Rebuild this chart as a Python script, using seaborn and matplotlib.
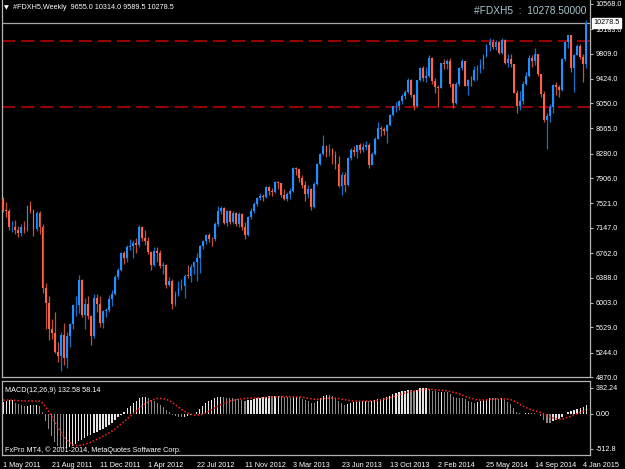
import numpy as np
import pandas as pd
import matplotlib
matplotlib.use('Agg')
import matplotlib.pyplot as plt
import matplotlib.transforms as mtransforms
import seaborn as sns

# weekly bars of #FDXH5, bar 0 = week of 1 May 2011, bar 193 = current week
opens = [7590, 7420, 7400, 7155, 7163, 7109, 7070, 7164, 7121, 7480,
         7410, 7130, 7380, 7158, 6236, 5998, 5602, 5537, 5246, 5189,
         5508, 5164, 5502, 5675, 5967, 5970, 6346, 5810, 5985, 5800,
         5492, 6080, 5986, 5702, 5878, 5898, 6057, 6143, 6404, 6511,
         6766, 6692, 6849, 6864, 6922, 6880, 7157, 6996, 6947, 6775,
         6583, 6801, 6762, 6561, 6579, 6271, 6339, 5978, 6130, 6229,
         6263, 6416, 6410, 6557, 6630, 6689, 6865, 6945, 7040, 6972,
         6970, 7214, 7412, 7451, 7216, 7398, 7233, 7380, 7202, 7363,
         7163, 7043, 7309, 7405, 7517, 7597, 7636, 7612, 7776, 7715,
         7702, 7850, 7833, 7652, 7593, 7661, 7708, 8060, 8043, 7913,
         7795, 7658, 7745, 7460, 7814, 8122, 8278, 8398, 8305, 8349,
         8254, 8127, 7789, 7959, 7806, 8212, 8331, 8300, 8410, 8338,
         8388, 8417, 8103, 8275, 8509, 8675, 8661, 8623, 8725, 8869,
         9001, 9010, 9079, 9168, 9226, 9405, 9172, 9006, 9400, 9589,
         9435, 9473, 9742, 9393, 9306, 9290, 9663, 9657, 9692, 9350,
         9056, 9342, 9588, 9695, 9315, 9409, 9401, 9556, 9581, 9629,
         9768, 9943, 9987, 9912, 9987, 9815, 10009, 9666, 9720, 9644,
         9210, 9009, 9092, 9339, 9470, 9747, 9691, 9799, 9490, 9195,
         8788, 8850, 8988, 9326, 9291, 9252, 9732, 9980, 10087, 9594,
         9786, 9927, 9764, 9655]
highs = [7620, 7540, 7440, 7250, 7260, 7180, 7200, 7250, 7490, 7560,
         7440, 7400, 7400, 7200, 6300, 6110, 5760, 5860, 5400, 5560,
         5700, 5560, 5700, 5990, 6100, 6430, 6360, 6070, 6110, 5810,
         6135, 6130, 6110, 5900, 5920, 6120, 6200, 6430, 6530, 6780,
         6800, 6880, 6970, 6960, 6990, 7194, 7180, 7110, 7010, 6790,
         6860, 6850, 6810, 6620, 6590, 6390, 6360, 6190, 6330, 6360,
         6440, 6580, 6590, 6640, 6770, 6880, 6960, 7050, 7070, 7010,
         7240, 7480, 7480, 7460, 7420, 7420, 7400, 7390, 7390, 7370,
         7230, 7330, 7450, 7540, 7620, 7680, 7660, 7790, 7780, 7760,
         7870, 7870, 7840, 7740, 7700, 7750, 8070, 8080, 8050, 7950,
         7860, 7800, 7760, 7850, 8140, 8290, 8560, 8420, 8430, 8370,
         8320, 8250, 8000, 8000, 8230, 8370, 8400, 8420, 8450, 8450,
         8470, 8440, 8300, 8530, 8770, 8700, 8690, 8740, 8880, 9010,
         9070, 9100, 9190, 9260, 9430, 9420, 9190, 9410, 9600, 9620,
         9600, 9794, 9760, 9440, 9330, 9670, 9720, 9720, 9740, 9360,
         9380, 9600, 9720, 9700, 9420, 9470, 9620, 9640, 9720, 9800,
         9960, 10050, 10030, 10010, 10000, 10050, 10030, 9800, 9800, 9650,
         9250, 9230, 9390, 9520, 9780, 9780, 9890, 9810, 9500, 9230,
         8900, 9040, 9340, 9380, 9330, 9740, 10000, 10100, 10100, 9800,
         9950, 9950, 9800, 10314]
lows = [7390, 7320, 7120, 7080, 7050, 7010, 7020, 7070, 7100, 7380,
        7030, 7100, 7060, 6150, 5600, 5430, 5450, 5230, 5100, 4965,
        5060, 5000, 5330, 5600, 5800, 5850, 5780, 5600, 5760, 5366,
        5470, 5860, 5640, 5620, 5780, 5870, 5960, 6120, 6370, 6490,
        6600, 6630, 6810, 6690, 6760, 6860, 6950, 6890, 6750, 6510,
        6560, 6630, 6540, 6440, 6230, 6260, 5914, 5950, 6100, 6200,
        6080, 6380, 6320, 6450, 6330, 6460, 6820, 6900, 6930, 6870,
        6940, 7180, 7360, 7200, 7180, 7200, 7210, 7170, 7160, 7120,
        6970, 7030, 7290, 7380, 7480, 7570, 7560, 7600, 7650, 7640,
        7680, 7740, 7620, 7580, 7550, 7590, 7700, 7950, 7850, 7760,
        7550, 7600, 7420, 7450, 7800, 8100, 8260, 8230, 8240, 8130,
        8050, 7770, 7655, 7700, 7790, 8180, 8250, 8220, 8290, 8300,
        8330, 8060, 8100, 8260, 8500, 8550, 8560, 8450, 8700, 8850,
        8920, 8940, 9040, 9120, 9200, 9150, 8950, 8990, 9390, 9390,
        9370, 9450, 9350, 9200, 8990, 9280, 9580, 9580, 9300, 8980,
        9040, 9320, 9560, 9310, 9170, 9310, 9390, 9400, 9510, 9580,
        9750, 9850, 9880, 9860, 9800, 9800, 9650, 9610, 9600, 9200,
        8900, 8950, 9040, 9330, 9450, 9600, 9640, 9470, 9150, 8760,
        8355, 8760, 8900, 9180, 9150, 9240, 9700, 9900, 9520, 9220,
        9780, 9720, 9380, 9589.5]
closes = [7420, 7400, 7155, 7163, 7109, 7070, 7164, 7121, 7480, 7410,
          7130, 7380, 7158, 6236, 5998, 5602, 5537, 5246, 5189, 5508,
          5164, 5502, 5675, 5967, 5970, 6346, 5810, 5985, 5800, 5492,
          6080, 5986, 5702, 5878, 5898, 6057, 6143, 6404, 6511, 6766,
          6692, 6849, 6864, 6922, 6880, 7157, 6996, 6947, 6775, 6583,
          6801, 6762, 6561, 6579, 6271, 6339, 5978, 6130, 6229, 6263,
          6416, 6410, 6557, 6630, 6689, 6865, 6945, 7040, 6972, 6970,
          7214, 7412, 7451, 7216, 7398, 7233, 7380, 7202, 7363, 7163,
          7043, 7309, 7405, 7517, 7597, 7636, 7612, 7776, 7715, 7702,
          7850, 7833, 7652, 7593, 7661, 7708, 8060, 8043, 7913, 7795,
          7658, 7745, 7460, 7814, 8122, 8278, 8398, 8305, 8349, 8254,
          8127, 7789, 7959, 7806, 8212, 8331, 8300, 8410, 8338, 8388,
          8417, 8103, 8275, 8509, 8675, 8661, 8623, 8725, 8869, 9001,
          9010, 9079, 9168, 9226, 9405, 9172, 9006, 9400, 9589, 9435,
          9473, 9742, 9393, 9306, 9290, 9663, 9657, 9692, 9350, 9056,
          9342, 9588, 9695, 9315, 9409, 9401, 9556, 9581, 9629, 9768,
          9943, 9987, 9912, 9987, 9815, 10009, 9666, 9720, 9644, 9210,
          9009, 9092, 9339, 9470, 9747, 9691, 9799, 9490, 9195, 8788,
          8850, 8988, 9326, 9291, 9252, 9732, 9980, 10087, 9594, 9786,
          9927, 9764, 9648, 10278.5]

# MACD(12,26,9): main line (histogram) and signal line (dotted)
macd_main = [170, 185, 195, 200, 160, 140, 125, 110, 120, 132,
             125, 130, 118, 20, -110, -230, -330, -420, -475, -500,
             -512.8, -508, -495, -470, -440, -400, -380, -355, -335, -320,
             -290, -265, -245, -220, -195, -165, -130, -95, -55, -15,
             30, 80, 120, 160, 190, 230, 245, 250, 235, 205,
             185, 160, 130, 100, 60, 30, -20, -40, -50, -55,
             -50, -40, -25, 0, 30, 75, 110, 150, 180, 205,
             225, 240, 245, 240, 235, 230, 225, 215, 210, 200,
             190, 195, 205, 215, 225, 235, 240, 250, 255, 255,
             260, 262, 255, 245, 240, 235, 245, 250, 240, 220,
             195, 180, 160, 150, 185, 225, 260, 270, 270, 258,
             230, 180, 150, 130, 140, 155, 165, 175, 180, 185,
             190, 180, 185, 195, 210, 220, 225, 240, 260, 285,
             305, 320, 330, 340, 350, 345, 335, 350, 370, 375,
             382.24, 360, 340, 330, 320, 325, 325, 320, 290, 250,
             235, 230, 225, 210, 185, 165, 160, 165, 180, 200,
             220, 235, 235, 235, 220, 225, 195, 175, 140, 80,
             20, 5, 2, 5, 15, 10, 10, -5, -40, -90,
             -130, -135, -110, -100, -85, -50, -10, 30, 45, 60,
             75, 85, 95, 132.58]
macd_signal = [200, 200, 200, 198, 195, 192, 189, 187, 186, 186,
               186, 186, 185, 155, 100, 35, -40, -120, -195, -265,
               -330, -385, -425, -455, -468, -468, -462, -450, -435, -418,
               -398, -378, -356, -332, -308, -283, -255, -225, -190, -155,
               -118, -80, -40, 0, 40, 80, 115, 145, 170, 192,
               210, 222, 225, 220, 208, 190, 165, 130, 95, 65,
               35, 10, -8, -20, -25, -15, -5, 10, 35, 60,
               85, 108, 132, 152, 170, 185, 197, 206, 213, 218,
               222, 226, 228, 230, 230, 231, 233, 236, 240, 244,
               247, 250, 251, 251, 250, 249, 248, 247, 245, 241,
               234, 226, 218, 212, 212, 215, 220, 225, 229, 230,
               228, 222, 215, 205, 198, 192, 188, 185, 184, 184,
               185, 185, 186, 188, 195, 204, 213, 222, 233, 246,
               260, 275, 290, 303, 315, 325, 332, 338, 345, 353,
               360, 360, 357, 352, 346, 345, 340, 333, 325, 315,
               302, 290, 272, 255, 240, 225, 212, 203, 200, 200,
               204, 209, 213, 217, 218, 219, 218, 214, 205, 190,
               165, 140, 112, 90, 72, 55, 42, 30, 18, -4,
               -28, -50, -64, -74, -79, -78, -68, -52, -35, -17,
               2, 20, 40, 58.14]

date_ticks = [0, 16, 32, 48, 64, 80, 96, 112, 128, 144, 160, 176, 192]
date_labels = ['1 May 2011', '21 Aug 2011', '11 Dec 2011', '1 Apr 2012',
               '22 Jul 2012', '11 Nov 2012', '3 Mar 2013', '23 Jun 2013',
               '13 Oct 2013', '2 Feb 2014', '25 May 2014', '14 Sep 2014',
               '4 Jan 2015']
price_ticks = [10568.0, 10183.0, 9809.0, 9424.0, 9050.0, 8665.0, 8280.0, 7906.0,
               7521.0, 7147.0, 6762.0, 6388.0, 6003.0, 5629.0, 5244.0, 4870.0]
macd_ticks = [382.24, 0.0, -512.8]
macd_tick_labels = ['382.24', '0.00', '-512.8']
level_lines = [10000, 9000]
bid_price = 10278.5

sns.set_theme(style='dark', rc={'axes.facecolor': 'black', 'figure.facecolor': 'black'})
plt.rcParams['font.family'] = ['Liberation Sans', 'DejaVu Sans']

W, H = 625, 469
frame = '#b4b4b4'
fig = plt.figure(figsize=(W / 100, H / 100), dpi=100, facecolor='black')
ax = fig.add_axes([2 / W, (H - 377) / H, 588 / W, 377 / H])
ax2 = fig.add_axes([2 / W, (H - 455) / H, 588 / W, 74 / H])

idx = np.arange(len(closes))
o = np.array(opens, dtype=float)
c = np.array(closes, dtype=float)
hi = np.array(highs, dtype=float)
lo = np.array(lows, dtype=float)
up = c >= o

# candles
ax.vlines(idx, lo, hi, colors=np.where(up, '#1670c8', '#c4503a'), linewidth=0.9, zorder=2)
body = np.maximum(np.abs(c - o), 10)
ax.bar(idx, body, bottom=np.minimum(o, c), width=0.62,
       color=np.where(up, '#1e90ff', '#ff6347'), linewidth=0, zorder=3)

for lv in level_lines:
    ax.axhline(lv, color='#b40000', linewidth=1.2, dashes=(8, 3.5), zorder=1)
ax.axhline(bid_price, color='#a8a8a8', linewidth=0.9, zorder=1)

xlim = ((2 - 3.3) / 3.02, (590 - 3.3) / 3.02)
ax.set_xlim(*xlim)
ax.set_ylim(4870, 10627)
ax.yaxis.tick_right()
ax.set_yticks(price_ticks, [f'{p:.1f}' for p in price_ticks])
ax.set_xticks([])
ax.tick_params(axis='y', direction='out', length=2.5, width=0.8, color=frame,
               labelcolor='white', labelsize=5.2, pad=1.5)
ax.grid(False)
for side in ['left', 'right', 'bottom']:
    ax.spines[side].set_color(frame)
    ax.spines[side].set_linewidth(0.9)
    ax.spines[side].set_visible(True)
ax.spines['top'].set_visible(False)

tr = mtransforms.blended_transform_factory(ax.transAxes, ax.transData)
ax.text(1.006, bid_price, '10278.5', transform=tr, fontsize=5.2, color='black',
        ha='left', va='center', zorder=10,
        bbox=dict(boxstyle='square,pad=0.18', fc='white', ec='white'))

# MACD window
macd_df = pd.DataFrame({'bar': idx, 'macd': macd_main})
prev = np.r_[macd_main[0] - 1, macd_main[:-1]]
macd_df['dir'] = np.where(np.array(macd_main) > prev, 'up', 'down')
sns.barplot(data=macd_df, x='bar', y='macd', hue='dir',
            palette={'up': '#e4e4e4', 'down': '#8a8a8a'}, dodge=False,
            native_scale=True, width=0.4, linewidth=0, errorbar=None,
            saturation=1, legend=False, ax=ax2)
sns.lineplot(x=idx, y=macd_signal, color='#ff2424', linestyle=(0, (1, 1.3)),
             linewidth=1.1, ax=ax2)
ax2.set_xlim(*xlim)
ax2.set_ylim(-607, 480)
ax2.set_xlabel('')
ax2.set_ylabel('')
ax2.yaxis.tick_right()
ax2.set_yticks(macd_ticks, macd_tick_labels)
ax2.set_xticks(date_ticks, date_labels)
for lbl in ax2.get_xticklabels():
    lbl.set_ha('left')
ax2.tick_params(axis='y', direction='out', length=2.5, width=0.8, color=frame,
                labelcolor='white', labelsize=5.2, pad=1.5)
ax2.tick_params(axis='x', direction='out', length=3.5, width=0.8, color=frame,
                labelcolor='white', labelsize=5.2, pad=1.5)
ax2.grid(False)
for side in ['left', 'right', 'bottom', 'top']:
    ax2.spines[side].set_color(frame)
    ax2.spines[side].set_linewidth(0.9)
    ax2.spines[side].set_visible(True)

# texts
fig.text(4 / W, 1 - 7.5 / H, '\u25bc', fontsize=4.5, color='white', va='center',
         family=['DejaVu Sans'])
fig.text(13 / W, 1 - 7.5 / H, '#FDXH5,Weekly  9655.0 10314.0 9589.5 10278.5',
         fontsize=5.2, color='white', va='center')
fig.text(586 / W, 1 - 11 / H, '#FDXH5  :  10278.50000', fontsize=7.3,
         color='#a8c6cf', ha='right', va='center')
fig.text(5 / W, 1 - 390 / H, 'MACD(12,26,9) 132.58 58.14', fontsize=5.2,
         color='white', va='center')
fig.text(5 / W, 1 - 450 / H, 'FxPro MT4, \u00a9 2001-2014, MetaQuotes Software Corp.',
         fontsize=5.2, color='white', va='center')

fig.savefig('out.png', dpi=100, facecolor='black')
